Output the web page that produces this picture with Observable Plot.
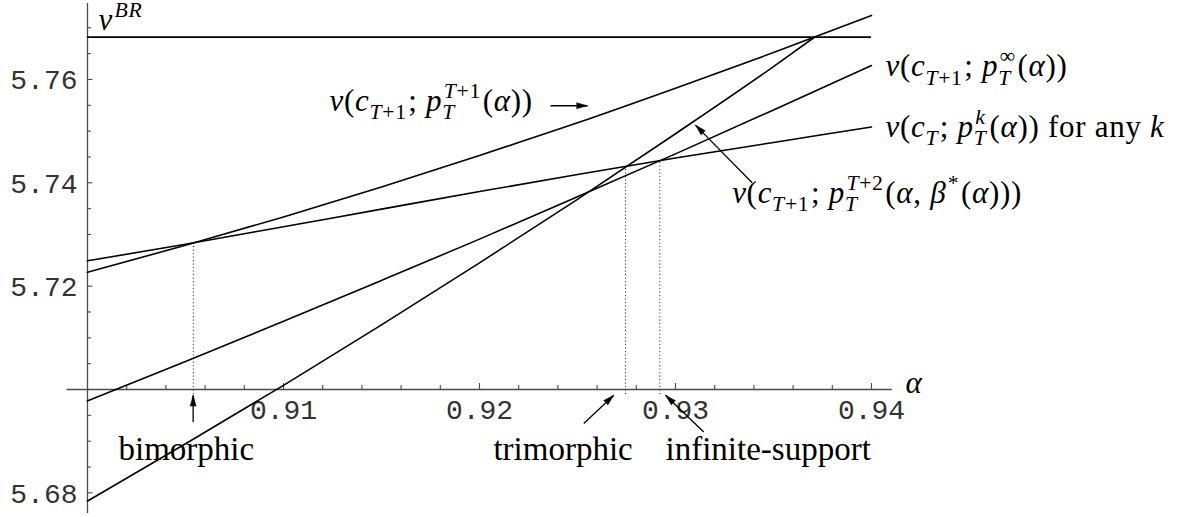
<!DOCTYPE html>
<html><head><meta charset="utf-8">
<script src="https://cdn.jsdelivr.net/npm/d3@7"></script>
<script src="https://cdn.jsdelivr.net/npm/@observablehq/plot@0.6"></script>
<style>html,body{margin:0;padding:0;background:#fff}svg{display:block}</style>
</head><body><div id="chart"></div>
<script>
// ---- data ----
const alpha = [0.900, 0.905, 0.910, 0.915, 0.920, 0.925, 0.930, 0.935, 0.940];
const vCT_pTk    = [5.7249, 5.7281, 5.7315, 5.7349, 5.7383, 5.7416, 5.7448, 5.7478, 5.7508];
const vCT1_pT1   = [5.7227, 5.7279, 5.7334, 5.7392, 5.7453, 5.7516, 5.7583, 5.7652, 5.7724];
const vCT1_pInf  = [5.6978, 5.7054, 5.7132, 5.7211, 5.7291, 5.7373, 5.7456, 5.7541, 5.7627];
const alphaT2    = [0.900, 0.905, 0.910, 0.915, 0.920, 0.925, 0.930, 0.935, 0.9371];
const vCT1_pT2   = [5.6784, 5.6895, 5.7008, 5.7125, 5.7245, 5.7368, 5.7495, 5.7625, 5.7682];
const vBR = 5.7682;
const thresholdNames = ["bimorphic", "trimorphic", "infinite-support"];
const thresholdAlpha = [0.9054, 0.92745, 0.9292];
const thresholdV     = [5.7285, 5.7431, 5.7443];
const xTickLabels = [0.91, 0.92, 0.93, 0.94];
const yTickLabels = [5.68, 5.72, 5.74, 5.76];

// ---- build tables ----
const toRows = (xs, ys, s) => xs.map((x, i) => ({alpha: x, v: ys[i], s}));
const curves = [
  ...toRows(alpha, vCT_pTk, "k"),
  ...toRows(alpha, vCT1_pT1, "T1"),
  ...toRows(alpha, vCT1_pInf, "inf"),
  ...toRows(alphaT2, vCT1_pT2, "T2")
];
const thresholds = thresholdNames.map((n, i) => ({name: n, alpha: thresholdAlpha[i], v: thresholdV[i]}));

const xMinor = d3.range(1, 21).map(i => +(0.9 + i * 0.002).toFixed(3));
const yMinor = d3.range(0, 19).map(i => +(5.68 + i * 0.005).toFixed(3));
const isMajorX = d => Math.abs(d * 100 - Math.round(d * 100)) < 1e-6;
const isMajorY = d => Math.abs(d * 50 - Math.round(d * 50)) < 1e-6;

const PXX = 1 / 19600, PXY = 1 / 5167; // data units per pixel (for tick lengths)
const AX = "#4a4a4a";
const MATH_FS = 31, WORD_FS = 33, TICK_FS = 28;
const SERIF = "Liberation Serif, Times New Roman, serif";
const MONO = "Liberation Mono, Courier New, monospace";

const mathLabels = [
  {text: "v^{BR}", alpha: 0.90056, v: 5.7715},
  {text: "v(c_{T+1}; p_{T}^{T+1}(α))", alpha: 0.91235, v: 5.7559},
  {text: "v(c_{T+1}; p_{T}^{∞}(α))", alpha: 0.94071, v: 5.7625},
  {text: "v(c_{T}; p_{T}^{k}(α))[ for any ]k", alpha: 0.94071, v: 5.7507},
  {text: "v(c_{T+1}; p_{T}^{T+2}(α, β^{*}(α)))", alpha: 0.93289, v: 5.7381},
  {text: "α", alpha: 0.94174, v: 5.7013}
];
const wordLabels = [
  {text: "bimorphic", alpha: 0.90158, v: 5.6884},
  {text: "trimorphic", alpha: 0.92071, v: 5.6884},
  {text: "infinite-support", alpha: 0.92949, v: 5.6884}
];
const arrows = [
  {x1: 0.92362, y1: 5.75491, x2: 0.92551, y2: 5.75491, rot: 90},
  {x1: 0.93391, y1: 5.74000, x2: 0.93102, y2: 5.75117, rot: -44.5},
  {x1: 0.90539, y1: 5.69373, x2: 0.90539, y2: 5.69890, rot: 0},
  {x1: 0.92532, y1: 5.69342, x2: 0.92685, y2: 5.69890, rot: 46.7},
  {x1: 0.93144, y1: 5.69179, x2: 0.92949, y2: 5.69890, rot: -46.1}
];

const chart = Plot.plot({
  width: 1198, height: 517,
  marginLeft: 87, marginRight: 307.4, marginTop: 3, marginBottom: 4,
  x: {domain: [0.9, 0.941], axis: null},
  y: {domain: [5.676, 5.7747], axis: null},
  style: {background: "#fff", overflow: "visible"},
  marks: [
    // axes
    Plot.ruleY([5.70], {x1: 0.89896, x2: 0.94106, stroke: AX, strokeWidth: 1.3}),
    Plot.ruleX([0.9], {y1: 5.676, y2: 5.7747, stroke: AX, strokeWidth: 1.3}),
    Plot.ruleX(xMinor, {x: d => d, y1: 5.70, y2: d => 5.70 + (isMajorX(d) ? 6 : 4) * PXY, stroke: AX, strokeWidth: 1.1}),
    Plot.ruleY(yMinor, {y: d => d, x1: 0.9, x2: d => 0.9 + (isMajorY(d) ? 5.5 : 4) * PXX, stroke: AX, strokeWidth: 1.1}),
    Plot.text(xTickLabels, {x: d => d, y: 5.70, dy: 21, text: d => d.toFixed(2), textAnchor: "middle",
      fontFamily: MONO, fontSize: TICK_FS, fill: "#333"}),
    Plot.text(yTickLabels, {x: 0.9, y: d => d, dx: -10, dy: 1, text: d => d.toFixed(2), textAnchor: "end",
      fontFamily: MONO, fontSize: TICK_FS, fill: "#333"}),
    // dotted thresholds
    Plot.ruleX(thresholds, {x: "alpha", y1: 5.699, y2: "v", stroke: "#333", strokeWidth: 1, strokeDasharray: "1.2,2.3"}),
    // v^BR
    Plot.ruleY([vBR], {x1: 0.9, x2: 0.94, stroke: "#000", strokeWidth: 1.6}),
    // curves
    Plot.line(curves, {x: "alpha", y: "v", z: "s", stroke: "#000", strokeWidth: 1.6, curve: "monotone-x"}),
    // arrows
    Plot.link(arrows, {x1: "x1", y1: "y1", x2: "x2", y2: "y2", stroke: "#000", strokeWidth: 1.3}),
    Plot.vector(arrows, {x: "x2", y: "y2", rotate: "rot", length: 11, r: 3, shape: "spike", anchor: "end",
      fill: "#000", stroke: "#000", strokeWidth: 0.5}),
    // labels
    Plot.text(mathLabels, {x: "alpha", y: "v", text: "text", textAnchor: "start", fontFamily: SERIF, fontSize: MATH_FS, fill: "#000"}),
    Plot.text(wordLabels, {x: "alpha", y: "v", text: "text", textAnchor: "start", fontFamily: SERIF, fontSize: WORD_FS, fill: "#000"})
  ]
});
document.getElementById("chart").appendChild(chart);

// ---- typeset math labels with sub/superscripts ----
function tokenize(src) {
  const segs = []; let i = 0; let buf = ""; let upright = false;
  const flush = () => { if (buf) segs.push({level: "base", text: buf, upright}); buf = ""; };
  const group = () => { let d = 0, j = i; for (; j < src.length; j++) { if (src[j] === "{") d++; else if (src[j] === "}") { d--; if (!d) break; } } const g = src.slice(i + 1, j); i = j + 1; return g; };
  while (i < src.length) {
    const ch = src[i];
    if (ch === "[") { flush(); upright = true; i++; }
    else if (ch === "]") { flush(); upright = false; i++; }
    else if ((ch === "_" || ch === "^") && src[i + 1] === "{") {
      flush(); i++;
      const g = group();
      const prev = segs[segs.length - 1];
      const stack = ch === "^" && prev && prev.level === "sub";
      segs.push({level: ch === "_" ? "sub" : "sup", text: g, upright: false, stack});
    } else { buf += ch; i++; }
  }
  flush();
  return segs;
}
function runs(text, upright) {
  const out = [];
  for (const ch of text) {
    const it = !upright && /[A-Za-z\u03b1-\u03c9\u0391-\u03a9]/.test(ch);
    const last = out[out.length - 1];
    if (last && last.it === it) last.t += ch; else out.push({t: ch, it});
  }
  return out;
}
function typeset(el, src, fs) {
  const t = d3.select(el); t.text(null).attr("letter-spacing", 0.7);
  const segs = tokenize(src);
  let cur = 0, subW = 0, pendingDx = 0;
  for (const seg of segs) {
    const shift = seg.level === "sub" ? 0.26 * fs : seg.level === "sup" ? -0.42 * fs : 0;
    const size = seg.level === "base" ? fs : 0.7 * fs;
    const spans = [];
    runs(seg.text, seg.upright).forEach((r, k) => {
      const sp = t.append("tspan").attr("font-size", size).attr("font-style", r.it ? "italic" : "normal").text(r.t);
      if (k === 0) {
        sp.attr("dy", shift - cur);
        let dx = pendingDx;
        if (seg.stack) dx -= subW;
        if (seg.level === "sup" && !seg.stack) dx += 0.05 * fs;
        if (dx) sp.attr("dx", dx);
        pendingDx = 0;
      }
      spans.push(sp.node());
    });
    cur = shift;
    const w = d3.sum(spans, n => n.getComputedTextLength());
    if (seg.level === "sub") subW = w;
    else if (seg.stack) { pendingDx = Math.max(0, subW - w); subW = 0; }
    else subW = 0;
    if (seg.level !== "base") pendingDx += 0.05 * fs;
  }
}
const mathSet = new Set(mathLabels.map(d => d.text));
chart.querySelectorAll("text").forEach(el => {
  const s = el.textContent;
  if (mathSet.has(s)) typeset(el, s, MATH_FS);
});
</script>
</body></html>
